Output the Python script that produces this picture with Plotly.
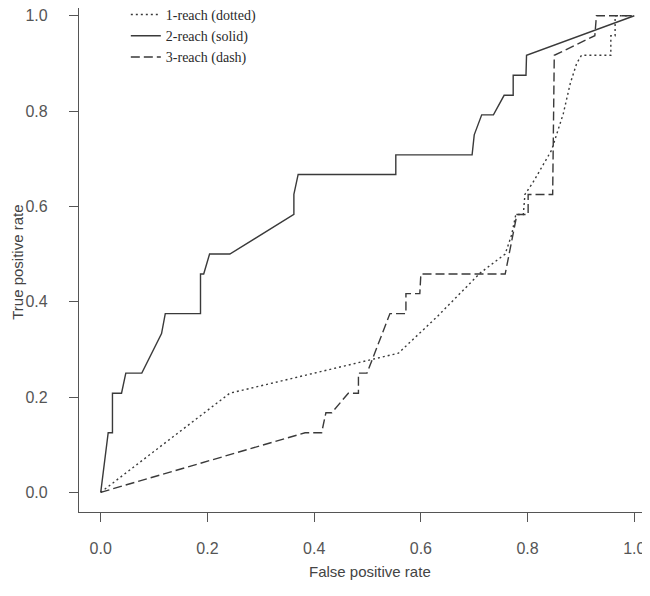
import plotly.graph_objects as go

# 1-reach (dotted)
fpr_1 = [0.0, 0.242, 0.558, 0.630, 0.711, 0.758, 0.770, 0.778, 0.792, 0.795, 0.810,
         0.845, 0.867, 0.880, 0.892, 0.901, 0.956, 0.956, 0.964, 0.964, 1.0]
tpr_1 = [0.0, 0.208, 0.292, 0.368, 0.460, 0.500, 0.540, 0.583, 0.583, 0.625, 0.650,
         0.718, 0.795, 0.858, 0.900, 0.917, 0.917, 0.958, 0.958, 1.0, 1.0]

# 2-reach (solid)
fpr_2 = [0.0, 0.014, 0.022, 0.022, 0.039, 0.047, 0.077, 0.114, 0.121, 0.187, 0.187,
         0.193, 0.204, 0.242, 0.362, 0.362, 0.370, 0.553, 0.553, 0.696, 0.700, 0.714,
         0.736, 0.756, 0.773, 0.773, 0.797, 0.798, 1.0]
tpr_2 = [0.0, 0.125, 0.125, 0.208, 0.208, 0.250, 0.250, 0.333, 0.375, 0.375, 0.458,
         0.458, 0.500, 0.500, 0.583, 0.625, 0.667, 0.667, 0.708, 0.708, 0.750, 0.792,
         0.792, 0.833, 0.833, 0.875, 0.875, 0.917, 1.0]

# 3-reach (dash)
fpr_3 = [0.0, 0.383, 0.414, 0.422, 0.433, 0.464, 0.483, 0.483, 0.499, 0.542, 0.572,
         0.572, 0.598, 0.600, 0.758, 0.780, 0.801, 0.801, 0.847, 0.850, 0.926, 0.929, 1.0]
tpr_3 = [0.0, 0.125, 0.125, 0.167, 0.167, 0.208, 0.208, 0.250, 0.250, 0.375, 0.375,
         0.417, 0.417, 0.458, 0.458, 0.583, 0.583, 0.625, 0.625, 0.917, 0.958, 1.0, 1.0]

series_names = ["1-reach (dotted)", "2-reach (solid)", "3-reach (dash)"]
tick_vals = [0.0, 0.2, 0.4, 0.6, 0.8, 1.0]
tick_text = ["0.0", "0.2", "0.4", "0.6", "0.8", "1.0"]
x_title = "False positive rate"
y_title = "True positive rate"

line_col = "#3a3a3a"
axis_col = "#555555"
sans = "Liberation Sans, Arial, sans-serif"

fig = go.Figure()
fig.add_trace(go.Scatter(x=fpr_1, y=tpr_1, mode="lines", name=series_names[0],
                         line=dict(color=line_col, width=1.4, dash="2px,3px")))
fig.add_trace(go.Scatter(x=fpr_2, y=tpr_2, mode="lines", name=series_names[1],
                         line=dict(color=line_col, width=1.4)))
fig.add_trace(go.Scatter(x=fpr_3, y=tpr_3, mode="lines", name=series_names[2],
                         line=dict(color=line_col, width=1.4, dash="9px,4px")))

axis_common = dict(
    showgrid=False, zeroline=False, showline=True, linecolor=axis_col, linewidth=1.3,
    ticks="outside", ticklen=9, tickwidth=1.2, tickcolor=axis_col,
    tickvals=tick_vals, ticktext=tick_text, ticklabeloverflow="allow",
    tickfont=dict(family=sans, size=16, color="#555555"),
    mirror=False, automargin=False,
)

fig.update_layout(
    width=642, height=580,
    margin=dict(l=71, r=0, t=0, b=76, autoexpand=False),
    paper_bgcolor="white", plot_bgcolor="white",
    xaxis=dict(range=[-0.0407, 1.0294], ticklabelstandoff=13, **axis_common),
    yaxis=dict(range=[-0.0413, 1.0162], ticklabelstandoff=18, **axis_common),
    legend=dict(x=0.082, y=1.018, xanchor="left", yanchor="top",
                bgcolor="rgba(0,0,0,0)", borderwidth=0, itemwidth=30,
                font=dict(family="Liberation Serif, Times New Roman, serif", size=14, color="#2a2a2a"),
                tracegroupgap=0),
    showlegend=True,
    annotations=[
        dict(text=x_title, xref="paper", yref="paper", x=0.5096, y=-0.119,
             xanchor="center", yanchor="middle", showarrow=False,
             font=dict(family=sans, size=15, color="#444444")),
        dict(text=y_title, xref="paper", yref="paper", x=-0.109, y=0.496,
             xanchor="center", yanchor="middle", showarrow=False, textangle=-90,
             font=dict(family=sans, size=15, color="#444444")),
    ],
)

fig.write_html("out.html")
